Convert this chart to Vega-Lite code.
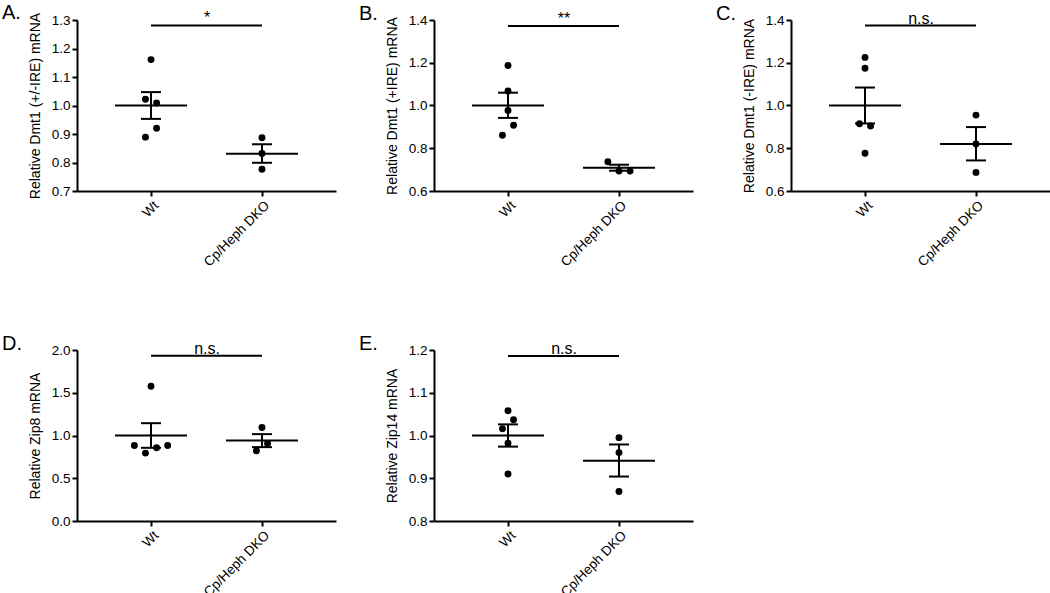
{
  "$schema": "https://vega.github.io/schema/vega-lite/v6.json",
  "padding": {"left": 2, "top": 3, "right": 0, "bottom": 0},
  "background": "white",
  "datasets": {
    "points": [
      {"panel": "A", "group": "Wt", "value": 1.161, "jitter": 0},
      {"panel": "A", "group": "Wt", "value": 1.022, "jitter": -1},
      {"panel": "A", "group": "Wt", "value": 1.009, "jitter": 1},
      {"panel": "A", "group": "Wt", "value": 0.920, "jitter": 1},
      {"panel": "A", "group": "Wt", "value": 0.889, "jitter": -1},
      {"panel": "A", "group": "Cp/Heph DKO", "value": 0.887, "jitter": 0},
      {"panel": "A", "group": "Cp/Heph DKO", "value": 0.832, "jitter": 0},
      {"panel": "A", "group": "Cp/Heph DKO", "value": 0.776, "jitter": 0},
      {"panel": "B", "group": "Wt", "value": 1.187, "jitter": 0},
      {"panel": "B", "group": "Wt", "value": 1.068, "jitter": 0},
      {"panel": "B", "group": "Wt", "value": 0.977, "jitter": 0},
      {"panel": "B", "group": "Wt", "value": 0.908, "jitter": 1},
      {"panel": "B", "group": "Wt", "value": 0.861, "jitter": -1},
      {"panel": "B", "group": "Cp/Heph DKO", "value": 0.737, "jitter": -2},
      {"panel": "B", "group": "Cp/Heph DKO", "value": 0.693, "jitter": 0},
      {"panel": "B", "group": "Cp/Heph DKO", "value": 0.693, "jitter": 2},
      {"panel": "C", "group": "Wt", "value": 1.225, "jitter": 0},
      {"panel": "C", "group": "Wt", "value": 1.174, "jitter": 0},
      {"panel": "C", "group": "Wt", "value": 0.915, "jitter": -1},
      {"panel": "C", "group": "Wt", "value": 0.904, "jitter": 1},
      {"panel": "C", "group": "Wt", "value": 0.777, "jitter": 0},
      {"panel": "C", "group": "Cp/Heph DKO", "value": 0.955, "jitter": 0},
      {"panel": "C", "group": "Cp/Heph DKO", "value": 0.820, "jitter": 0},
      {"panel": "C", "group": "Cp/Heph DKO", "value": 0.687, "jitter": 0},
      {"panel": "D", "group": "Wt", "value": 1.576, "jitter": 0},
      {"panel": "D", "group": "Wt", "value": 0.883, "jitter": -3},
      {"panel": "D", "group": "Wt", "value": 0.794, "jitter": -1},
      {"panel": "D", "group": "Wt", "value": 0.856, "jitter": 1},
      {"panel": "D", "group": "Wt", "value": 0.883, "jitter": 3},
      {"panel": "D", "group": "Cp/Heph DKO", "value": 1.093, "jitter": 0},
      {"panel": "D", "group": "Cp/Heph DKO", "value": 0.907, "jitter": 1},
      {"panel": "D", "group": "Cp/Heph DKO", "value": 0.821, "jitter": -1},
      {"panel": "E", "group": "Wt", "value": 1.058, "jitter": 0},
      {"panel": "E", "group": "Wt", "value": 1.037, "jitter": 1},
      {"panel": "E", "group": "Wt", "value": 1.016, "jitter": -1},
      {"panel": "E", "group": "Wt", "value": 0.982, "jitter": 0},
      {"panel": "E", "group": "Wt", "value": 0.910, "jitter": 0},
      {"panel": "E", "group": "Cp/Heph DKO", "value": 0.995, "jitter": 0},
      {"panel": "E", "group": "Cp/Heph DKO", "value": 0.960, "jitter": 0},
      {"panel": "E", "group": "Cp/Heph DKO", "value": 0.869, "jitter": 0}
    ],
    "summary": [
      {"panel": "A", "group": "Wt", "mean": 1.0, "lo": 0.953, "hi": 1.047},
      {"panel": "A", "group": "Cp/Heph DKO", "mean": 0.831, "lo": 0.799, "hi": 0.864},
      {"panel": "B", "group": "Wt", "mean": 1.0, "lo": 0.942, "hi": 1.06},
      {"panel": "B", "group": "Cp/Heph DKO", "mean": 0.709, "lo": 0.695, "hi": 0.723},
      {"panel": "C", "group": "Wt", "mean": 1.0, "lo": 0.916, "hi": 1.084},
      {"panel": "C", "group": "Cp/Heph DKO", "mean": 0.82, "lo": 0.743, "hi": 0.899},
      {"panel": "D", "group": "Wt", "mean": 1.0, "lo": 0.856, "hi": 1.144},
      {"panel": "D", "group": "Cp/Heph DKO", "mean": 0.942, "lo": 0.864, "hi": 1.016},
      {"panel": "E", "group": "Wt", "mean": 1.0, "lo": 0.974, "hi": 1.026},
      {"panel": "E", "group": "Cp/Heph DKO", "mean": 0.941, "lo": 0.904, "hi": 0.979}
    ],
    "sig": [
      {"panel": "A", "from": "Wt", "to": "Cp/Heph DKO", "y": 1.281, "label": "*"},
      {"panel": "B", "from": "Wt", "to": "Cp/Heph DKO", "y": 1.372, "label": "**"},
      {"panel": "C", "from": "Wt", "to": "Cp/Heph DKO", "y": 1.374, "label": "n.s."},
      {"panel": "D", "from": "Wt", "to": "Cp/Heph DKO", "y": 1.934, "label": "n.s."},
      {"panel": "E", "from": "Wt", "to": "Cp/Heph DKO", "y": 1.186, "label": "n.s."}
    ]
  },
  "columns": 3,
  "spacing": {"row": 159, "column": 98},
  "bounds": "flush",
  "concat": [
    {
      "width": 259, "height": 171,
      "title": {"text": "A.", "anchor": "start", "frame": "group", "dx": -75, "dy": 34, "fontSize": 20, "fontWeight": "normal", "baseline": "bottom", "offset": 1},
      "layer": [
        {"data": {"name": "sig"}, "transform": [{"filter": "datum.panel === 'A'"}],
         "mark": {"type": "rule", "strokeWidth": 2, "color": "black"},
         "encoding": {
           "x": {"field": "from", "type": "nominal", "title": null, "scale": {"type": "point", "domain": ["Wt", "Cp/Heph DKO"], "padding": 0.667}, "axis": {"labelAngle": -45}},
           "x2": {"field": "to"},
           "y": {"field": "y", "type": "quantitative", "title": "Relative Dmt1 (+/-IRE) mRNA", "scale": {"domain": [0.7, 1.3], "nice": false, "zero": false}, "axis": {"values": [0.7, 0.8, 0.9, 1.0, 1.1, 1.2, 1.3], "format": ".1f", "labelOverlap": false}}
         }},
        {"data": {"name": "sig"}, "transform": [{"filter": "datum.panel === 'A'"}],
         "mark": {"type": "text", "fontSize": 16, "baseline": "alphabetic", "dy": -2, "dx": 56, "color": "black"},
         "encoding": {"x": {"field": "from", "type": "nominal", "title": null, "axis": {"labelAngle": -45}}, "y": {"field": "y", "type": "quantitative", "title": "Relative Dmt1 (+/-IRE) mRNA", "axis": {"values": [0.7, 0.8, 0.9, 1.0, 1.1, 1.2, 1.3], "format": ".1f", "labelOverlap": false}}, "text": {"field": "label"}}},
        {"data": {"name": "points"}, "transform": [{"filter": "datum.panel === 'A'"}],
         "mark": {"type": "circle", "size": 48, "opacity": 1, "color": "black"},
         "encoding": {"x": {"field": "group", "type": "nominal", "title": null, "axis": {"labelAngle": -45}}, "xOffset": {"field": "jitter", "type": "quantitative", "scale": {"domain": [-10, 10], "range": [-55.5, 55.5]}}, "y": {"field": "value", "type": "quantitative", "title": "Relative Dmt1 (+/-IRE) mRNA", "axis": {"values": [0.7, 0.8, 0.9, 1.0, 1.1, 1.2, 1.3], "format": ".1f", "labelOverlap": false}}}},
        {"data": {"name": "summary"}, "transform": [{"filter": "datum.panel === 'A'"}],
         "mark": {"type": "tick", "size": 72, "thickness": 2, "opacity": 1, "color": "black"},
         "encoding": {"x": {"field": "group", "type": "nominal", "title": null, "axis": {"labelAngle": -45}}, "y": {"field": "mean", "type": "quantitative", "title": "Relative Dmt1 (+/-IRE) mRNA", "axis": {"values": [0.7, 0.8, 0.9, 1.0, 1.1, 1.2, 1.3], "format": ".1f", "labelOverlap": false}}}},
        {"data": {"name": "summary"}, "transform": [{"filter": "datum.panel === 'A'"}],
         "mark": {"type": "rule", "strokeWidth": 2, "color": "black"},
         "encoding": {"x": {"field": "group", "type": "nominal", "title": null, "axis": {"labelAngle": -45}}, "y": {"field": "lo", "type": "quantitative", "title": "Relative Dmt1 (+/-IRE) mRNA", "axis": {"values": [0.7, 0.8, 0.9, 1.0, 1.1, 1.2, 1.3], "format": ".1f", "labelOverlap": false}}, "y2": {"field": "hi"}}},
        {"data": {"name": "summary"}, "transform": [{"filter": "datum.panel === 'A'"}],
         "mark": {"type": "tick", "size": 20, "thickness": 2, "opacity": 1, "color": "black"},
         "encoding": {"x": {"field": "group", "type": "nominal", "title": null, "axis": {"labelAngle": -45}}, "y": {"field": "lo", "type": "quantitative", "title": "Relative Dmt1 (+/-IRE) mRNA", "axis": {"values": [0.7, 0.8, 0.9, 1.0, 1.1, 1.2, 1.3], "format": ".1f", "labelOverlap": false}}}},
        {"data": {"name": "summary"}, "transform": [{"filter": "datum.panel === 'A'"}],
         "mark": {"type": "tick", "size": 20, "thickness": 2, "opacity": 1, "color": "black"},
         "encoding": {"x": {"field": "group", "type": "nominal", "title": null, "axis": {"labelAngle": -45}}, "y": {"field": "hi", "type": "quantitative", "title": "Relative Dmt1 (+/-IRE) mRNA", "axis": {"values": [0.7, 0.8, 0.9, 1.0, 1.1, 1.2, 1.3], "format": ".1f", "labelOverlap": false}}}}
      ]
    },
    {
      "width": 259, "height": 171,
      "title": {"text": "B.", "anchor": "start", "frame": "group", "dx": -75, "dy": 34, "fontSize": 20, "fontWeight": "normal", "baseline": "bottom", "offset": 1},
      "layer": [
        {"data": {"name": "sig"}, "transform": [{"filter": "datum.panel === 'B'"}],
         "mark": {"type": "rule", "strokeWidth": 2, "color": "black"},
         "encoding": {
           "x": {"field": "from", "type": "nominal", "title": null, "scale": {"type": "point", "domain": ["Wt", "Cp/Heph DKO"], "padding": 0.667}, "axis": {"labelAngle": -45}},
           "x2": {"field": "to"},
           "y": {"field": "y", "type": "quantitative", "title": "Relative Dmt1 (+IRE) mRNA", "scale": {"domain": [0.6, 1.4], "nice": false, "zero": false}, "axis": {"values": [0.6, 0.8, 1.0, 1.2, 1.4], "format": ".1f", "labelOverlap": false}}
         }},
        {"data": {"name": "sig"}, "transform": [{"filter": "datum.panel === 'B'"}],
         "mark": {"type": "text", "fontSize": 16, "baseline": "alphabetic", "dy": -2, "dx": 56, "color": "black"},
         "encoding": {"x": {"field": "from", "type": "nominal", "title": null, "axis": {"labelAngle": -45}}, "y": {"field": "y", "type": "quantitative", "title": "Relative Dmt1 (+IRE) mRNA", "axis": {"values": [0.6, 0.8, 1.0, 1.2, 1.4], "format": ".1f", "labelOverlap": false}}, "text": {"field": "label"}}},
        {"data": {"name": "points"}, "transform": [{"filter": "datum.panel === 'B'"}],
         "mark": {"type": "circle", "size": 48, "opacity": 1, "color": "black"},
         "encoding": {"x": {"field": "group", "type": "nominal", "title": null, "axis": {"labelAngle": -45}}, "xOffset": {"field": "jitter", "type": "quantitative", "scale": {"domain": [-10, 10], "range": [-55.5, 55.5]}}, "y": {"field": "value", "type": "quantitative", "title": "Relative Dmt1 (+IRE) mRNA", "axis": {"values": [0.6, 0.8, 1.0, 1.2, 1.4], "format": ".1f", "labelOverlap": false}}}},
        {"data": {"name": "summary"}, "transform": [{"filter": "datum.panel === 'B'"}],
         "mark": {"type": "tick", "size": 72, "thickness": 2, "opacity": 1, "color": "black"},
         "encoding": {"x": {"field": "group", "type": "nominal", "title": null, "axis": {"labelAngle": -45}}, "y": {"field": "mean", "type": "quantitative", "title": "Relative Dmt1 (+IRE) mRNA", "axis": {"values": [0.6, 0.8, 1.0, 1.2, 1.4], "format": ".1f", "labelOverlap": false}}}},
        {"data": {"name": "summary"}, "transform": [{"filter": "datum.panel === 'B'"}],
         "mark": {"type": "rule", "strokeWidth": 2, "color": "black"},
         "encoding": {"x": {"field": "group", "type": "nominal", "title": null, "axis": {"labelAngle": -45}}, "y": {"field": "lo", "type": "quantitative", "title": "Relative Dmt1 (+IRE) mRNA", "axis": {"values": [0.6, 0.8, 1.0, 1.2, 1.4], "format": ".1f", "labelOverlap": false}}, "y2": {"field": "hi"}}},
        {"data": {"name": "summary"}, "transform": [{"filter": "datum.panel === 'B'"}],
         "mark": {"type": "tick", "size": 20, "thickness": 2, "opacity": 1, "color": "black"},
         "encoding": {"x": {"field": "group", "type": "nominal", "title": null, "axis": {"labelAngle": -45}}, "y": {"field": "lo", "type": "quantitative", "title": "Relative Dmt1 (+IRE) mRNA", "axis": {"values": [0.6, 0.8, 1.0, 1.2, 1.4], "format": ".1f", "labelOverlap": false}}}},
        {"data": {"name": "summary"}, "transform": [{"filter": "datum.panel === 'B'"}],
         "mark": {"type": "tick", "size": 20, "thickness": 2, "opacity": 1, "color": "black"},
         "encoding": {"x": {"field": "group", "type": "nominal", "title": null, "axis": {"labelAngle": -45}}, "y": {"field": "hi", "type": "quantitative", "title": "Relative Dmt1 (+IRE) mRNA", "axis": {"values": [0.6, 0.8, 1.0, 1.2, 1.4], "format": ".1f", "labelOverlap": false}}}}
      ]
    },
    {
      "width": 259, "height": 171,
      "title": {"text": "C.", "anchor": "start", "frame": "group", "dx": -75, "dy": 34, "fontSize": 20, "fontWeight": "normal", "baseline": "bottom", "offset": 1},
      "layer": [
        {"data": {"name": "sig"}, "transform": [{"filter": "datum.panel === 'C'"}],
         "mark": {"type": "rule", "strokeWidth": 2, "color": "black"},
         "encoding": {
           "x": {"field": "from", "type": "nominal", "title": null, "scale": {"type": "point", "domain": ["Wt", "Cp/Heph DKO"], "padding": 0.667}, "axis": {"labelAngle": -45}},
           "x2": {"field": "to"},
           "y": {"field": "y", "type": "quantitative", "title": "Relative Dmt1 (-IRE) mRNA", "scale": {"domain": [0.6, 1.4], "nice": false, "zero": false}, "axis": {"values": [0.6, 0.8, 1.0, 1.2, 1.4], "format": ".1f", "labelOverlap": false}}
         }},
        {"data": {"name": "sig"}, "transform": [{"filter": "datum.panel === 'C'"}],
         "mark": {"type": "text", "fontSize": 16, "baseline": "alphabetic", "dy": -2, "dx": 56, "color": "black"},
         "encoding": {"x": {"field": "from", "type": "nominal", "title": null, "axis": {"labelAngle": -45}}, "y": {"field": "y", "type": "quantitative", "title": "Relative Dmt1 (-IRE) mRNA", "axis": {"values": [0.6, 0.8, 1.0, 1.2, 1.4], "format": ".1f", "labelOverlap": false}}, "text": {"field": "label"}}},
        {"data": {"name": "points"}, "transform": [{"filter": "datum.panel === 'C'"}],
         "mark": {"type": "circle", "size": 48, "opacity": 1, "color": "black"},
         "encoding": {"x": {"field": "group", "type": "nominal", "title": null, "axis": {"labelAngle": -45}}, "xOffset": {"field": "jitter", "type": "quantitative", "scale": {"domain": [-10, 10], "range": [-55.5, 55.5]}}, "y": {"field": "value", "type": "quantitative", "title": "Relative Dmt1 (-IRE) mRNA", "axis": {"values": [0.6, 0.8, 1.0, 1.2, 1.4], "format": ".1f", "labelOverlap": false}}}},
        {"data": {"name": "summary"}, "transform": [{"filter": "datum.panel === 'C'"}],
         "mark": {"type": "tick", "size": 72, "thickness": 2, "opacity": 1, "color": "black"},
         "encoding": {"x": {"field": "group", "type": "nominal", "title": null, "axis": {"labelAngle": -45}}, "y": {"field": "mean", "type": "quantitative", "title": "Relative Dmt1 (-IRE) mRNA", "axis": {"values": [0.6, 0.8, 1.0, 1.2, 1.4], "format": ".1f", "labelOverlap": false}}}},
        {"data": {"name": "summary"}, "transform": [{"filter": "datum.panel === 'C'"}],
         "mark": {"type": "rule", "strokeWidth": 2, "color": "black"},
         "encoding": {"x": {"field": "group", "type": "nominal", "title": null, "axis": {"labelAngle": -45}}, "y": {"field": "lo", "type": "quantitative", "title": "Relative Dmt1 (-IRE) mRNA", "axis": {"values": [0.6, 0.8, 1.0, 1.2, 1.4], "format": ".1f", "labelOverlap": false}}, "y2": {"field": "hi"}}},
        {"data": {"name": "summary"}, "transform": [{"filter": "datum.panel === 'C'"}],
         "mark": {"type": "tick", "size": 20, "thickness": 2, "opacity": 1, "color": "black"},
         "encoding": {"x": {"field": "group", "type": "nominal", "title": null, "axis": {"labelAngle": -45}}, "y": {"field": "lo", "type": "quantitative", "title": "Relative Dmt1 (-IRE) mRNA", "axis": {"values": [0.6, 0.8, 1.0, 1.2, 1.4], "format": ".1f", "labelOverlap": false}}}},
        {"data": {"name": "summary"}, "transform": [{"filter": "datum.panel === 'C'"}],
         "mark": {"type": "tick", "size": 20, "thickness": 2, "opacity": 1, "color": "black"},
         "encoding": {"x": {"field": "group", "type": "nominal", "title": null, "axis": {"labelAngle": -45}}, "y": {"field": "hi", "type": "quantitative", "title": "Relative Dmt1 (-IRE) mRNA", "axis": {"values": [0.6, 0.8, 1.0, 1.2, 1.4], "format": ".1f", "labelOverlap": false}}}}
      ]
    },
    {
      "width": 259, "height": 171,
      "title": {"text": "D.", "anchor": "start", "frame": "group", "dx": -75, "dy": 34, "fontSize": 20, "fontWeight": "normal", "baseline": "bottom", "offset": 1},
      "layer": [
        {"data": {"name": "sig"}, "transform": [{"filter": "datum.panel === 'D'"}],
         "mark": {"type": "rule", "strokeWidth": 2, "color": "black"},
         "encoding": {
           "x": {"field": "from", "type": "nominal", "title": null, "scale": {"type": "point", "domain": ["Wt", "Cp/Heph DKO"], "padding": 0.667}, "axis": {"labelAngle": -45}},
           "x2": {"field": "to"},
           "y": {"field": "y", "type": "quantitative", "title": "Relative Zip8 mRNA", "scale": {"domain": [0, 2], "nice": false, "zero": false}, "axis": {"values": [0, 0.5, 1.0, 1.5, 2.0], "format": ".1f", "labelOverlap": false}}
         }},
        {"data": {"name": "sig"}, "transform": [{"filter": "datum.panel === 'D'"}],
         "mark": {"type": "text", "fontSize": 16, "baseline": "alphabetic", "dy": -2, "dx": 56, "color": "black"},
         "encoding": {"x": {"field": "from", "type": "nominal", "title": null, "axis": {"labelAngle": -45}}, "y": {"field": "y", "type": "quantitative", "title": "Relative Zip8 mRNA", "axis": {"values": [0, 0.5, 1.0, 1.5, 2.0], "format": ".1f", "labelOverlap": false}}, "text": {"field": "label"}}},
        {"data": {"name": "points"}, "transform": [{"filter": "datum.panel === 'D'"}],
         "mark": {"type": "circle", "size": 48, "opacity": 1, "color": "black"},
         "encoding": {"x": {"field": "group", "type": "nominal", "title": null, "axis": {"labelAngle": -45}}, "xOffset": {"field": "jitter", "type": "quantitative", "scale": {"domain": [-10, 10], "range": [-55.5, 55.5]}}, "y": {"field": "value", "type": "quantitative", "title": "Relative Zip8 mRNA", "axis": {"values": [0, 0.5, 1.0, 1.5, 2.0], "format": ".1f", "labelOverlap": false}}}},
        {"data": {"name": "summary"}, "transform": [{"filter": "datum.panel === 'D'"}],
         "mark": {"type": "tick", "size": 72, "thickness": 2, "opacity": 1, "color": "black"},
         "encoding": {"x": {"field": "group", "type": "nominal", "title": null, "axis": {"labelAngle": -45}}, "y": {"field": "mean", "type": "quantitative", "title": "Relative Zip8 mRNA", "axis": {"values": [0, 0.5, 1.0, 1.5, 2.0], "format": ".1f", "labelOverlap": false}}}},
        {"data": {"name": "summary"}, "transform": [{"filter": "datum.panel === 'D'"}],
         "mark": {"type": "rule", "strokeWidth": 2, "color": "black"},
         "encoding": {"x": {"field": "group", "type": "nominal", "title": null, "axis": {"labelAngle": -45}}, "y": {"field": "lo", "type": "quantitative", "title": "Relative Zip8 mRNA", "axis": {"values": [0, 0.5, 1.0, 1.5, 2.0], "format": ".1f", "labelOverlap": false}}, "y2": {"field": "hi"}}},
        {"data": {"name": "summary"}, "transform": [{"filter": "datum.panel === 'D'"}],
         "mark": {"type": "tick", "size": 20, "thickness": 2, "opacity": 1, "color": "black"},
         "encoding": {"x": {"field": "group", "type": "nominal", "title": null, "axis": {"labelAngle": -45}}, "y": {"field": "lo", "type": "quantitative", "title": "Relative Zip8 mRNA", "axis": {"values": [0, 0.5, 1.0, 1.5, 2.0], "format": ".1f", "labelOverlap": false}}}},
        {"data": {"name": "summary"}, "transform": [{"filter": "datum.panel === 'D'"}],
         "mark": {"type": "tick", "size": 20, "thickness": 2, "opacity": 1, "color": "black"},
         "encoding": {"x": {"field": "group", "type": "nominal", "title": null, "axis": {"labelAngle": -45}}, "y": {"field": "hi", "type": "quantitative", "title": "Relative Zip8 mRNA", "axis": {"values": [0, 0.5, 1.0, 1.5, 2.0], "format": ".1f", "labelOverlap": false}}}}
      ]
    },
    {
      "width": 259, "height": 171,
      "title": {"text": "E.", "anchor": "start", "frame": "group", "dx": -75, "dy": 34, "fontSize": 20, "fontWeight": "normal", "baseline": "bottom", "offset": 1},
      "layer": [
        {"data": {"name": "sig"}, "transform": [{"filter": "datum.panel === 'E'"}],
         "mark": {"type": "rule", "strokeWidth": 2, "color": "black"},
         "encoding": {
           "x": {"field": "from", "type": "nominal", "title": null, "scale": {"type": "point", "domain": ["Wt", "Cp/Heph DKO"], "padding": 0.667}, "axis": {"labelAngle": -45}},
           "x2": {"field": "to"},
           "y": {"field": "y", "type": "quantitative", "title": "Relative Zip14 mRNA", "scale": {"domain": [0.8, 1.2], "nice": false, "zero": false}, "axis": {"values": [0.8, 0.9, 1.0, 1.1, 1.2], "format": ".1f", "labelOverlap": false}}
         }},
        {"data": {"name": "sig"}, "transform": [{"filter": "datum.panel === 'E'"}],
         "mark": {"type": "text", "fontSize": 16, "baseline": "alphabetic", "dy": -2, "dx": 56, "color": "black"},
         "encoding": {"x": {"field": "from", "type": "nominal", "title": null, "axis": {"labelAngle": -45}}, "y": {"field": "y", "type": "quantitative", "title": "Relative Zip14 mRNA", "axis": {"values": [0.8, 0.9, 1.0, 1.1, 1.2], "format": ".1f", "labelOverlap": false}}, "text": {"field": "label"}}},
        {"data": {"name": "points"}, "transform": [{"filter": "datum.panel === 'E'"}],
         "mark": {"type": "circle", "size": 48, "opacity": 1, "color": "black"},
         "encoding": {"x": {"field": "group", "type": "nominal", "title": null, "axis": {"labelAngle": -45}}, "xOffset": {"field": "jitter", "type": "quantitative", "scale": {"domain": [-10, 10], "range": [-55.5, 55.5]}}, "y": {"field": "value", "type": "quantitative", "title": "Relative Zip14 mRNA", "axis": {"values": [0.8, 0.9, 1.0, 1.1, 1.2], "format": ".1f", "labelOverlap": false}}}},
        {"data": {"name": "summary"}, "transform": [{"filter": "datum.panel === 'E'"}],
         "mark": {"type": "tick", "size": 72, "thickness": 2, "opacity": 1, "color": "black"},
         "encoding": {"x": {"field": "group", "type": "nominal", "title": null, "axis": {"labelAngle": -45}}, "y": {"field": "mean", "type": "quantitative", "title": "Relative Zip14 mRNA", "axis": {"values": [0.8, 0.9, 1.0, 1.1, 1.2], "format": ".1f", "labelOverlap": false}}}},
        {"data": {"name": "summary"}, "transform": [{"filter": "datum.panel === 'E'"}],
         "mark": {"type": "rule", "strokeWidth": 2, "color": "black"},
         "encoding": {"x": {"field": "group", "type": "nominal", "title": null, "axis": {"labelAngle": -45}}, "y": {"field": "lo", "type": "quantitative", "title": "Relative Zip14 mRNA", "axis": {"values": [0.8, 0.9, 1.0, 1.1, 1.2], "format": ".1f", "labelOverlap": false}}, "y2": {"field": "hi"}}},
        {"data": {"name": "summary"}, "transform": [{"filter": "datum.panel === 'E'"}],
         "mark": {"type": "tick", "size": 20, "thickness": 2, "opacity": 1, "color": "black"},
         "encoding": {"x": {"field": "group", "type": "nominal", "title": null, "axis": {"labelAngle": -45}}, "y": {"field": "lo", "type": "quantitative", "title": "Relative Zip14 mRNA", "axis": {"values": [0.8, 0.9, 1.0, 1.1, 1.2], "format": ".1f", "labelOverlap": false}}}},
        {"data": {"name": "summary"}, "transform": [{"filter": "datum.panel === 'E'"}],
         "mark": {"type": "tick", "size": 20, "thickness": 2, "opacity": 1, "color": "black"},
         "encoding": {"x": {"field": "group", "type": "nominal", "title": null, "axis": {"labelAngle": -45}}, "y": {"field": "hi", "type": "quantitative", "title": "Relative Zip14 mRNA", "axis": {"values": [0.8, 0.9, 1.0, 1.1, 1.2], "format": ".1f", "labelOverlap": false}}}}
      ]
    }
  ],
  "config": {
    "font": "Liberation Sans",
    "view": {"stroke": null},
    "axis": {
      "grid": false,
      "domainColor": "black", "domainWidth": 2,
      "tickColor": "black", "tickWidth": 2, "tickSize": 5,
      "labelColor": "black", "labelFontSize": 13.5, "labelFont": "Liberation Sans", "labelOverlap": false,
      "titleColor": "black", "titleFontSize": 14, "titleFontWeight": "normal", "titleFont": "Liberation Sans",
      "labelPadding": 2, "titlePadding": 9
    },
    "title": {"color": "black", "font": "Liberation Sans"}
  }
}
